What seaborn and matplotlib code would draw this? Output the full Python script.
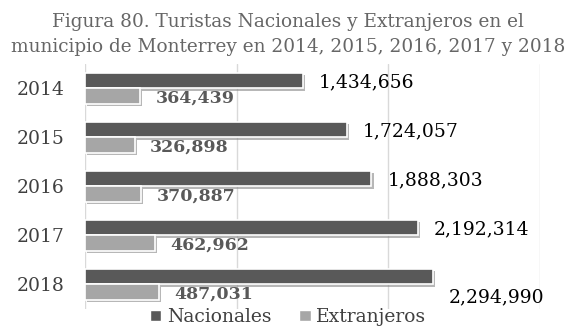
import pandas as pd
import numpy as np
import matplotlib.pyplot as plt
import matplotlib.patheffects as pe
import seaborn as sns

# Data
years = ['2014', '2015', '2016', '2017', '2018']
nacionales = [1434656, 1724057, 1888303, 2192314, 2294990]
extranjeros = [364439, 326898, 370887, 462962, 487031]
series_names = ['Nacionales', 'Extranjeros']
title = ('Figura 80. Turistas Nacionales y Extranjeros en el\n'
         'municipio de Monterrey en 2014, 2015, 2016, 2017 y 2018')

df = pd.DataFrame({
    'year': years * 2,
    'value': nacionales + extranjeros,
    'serie': [series_names[0]] * len(years) + [series_names[1]] * len(years),
})

sns.set_style('white')
plt.rcParams['font.family'] = ['DejaVu Serif']

fig = plt.figure(figsize=(5.76, 3.29), dpi=100)
ax = fig.add_axes([0.1476, 0.0608, 0.79, 0.7447])

palette = {'Nacionales': '#595959', 'Extranjeros': '#a6a6a6'}
sns.barplot(data=df, y='year', x='value', hue='serie', order=years,
            hue_order=series_names, palette=palette, orient='h',
            width=0.64, edgecolor='white', linewidth=1.2, saturation=1,
            ax=ax, legend=False)

shadow = [pe.SimplePatchShadow(offset=(1.5, -1.5), shadow_rgbFace='#888888', alpha=0.6),
          pe.Normal()]
for p in ax.patches:
    p.set_path_effects(shadow)

# value labels
nac_bars = ax.containers[0]
ext_bars = ax.containers[1]
for i, (bar, v) in enumerate(zip(nac_bars, nacionales)):
    dy = -2 if i < len(years) - 1 else -21
    ax.annotate(f'{v:,}', (bar.get_width(), bar.get_y() + bar.get_height() / 2),
                xytext=(16, dy), textcoords='offset pixels', va='center', ha='left',
                fontsize=13.5, color='black')
for bar, v in zip(ext_bars, extranjeros):
    ax.annotate(f'{v:,}', (bar.get_width(), bar.get_y() + bar.get_height() / 2),
                xytext=(15, -2), textcoords='offset pixels', va='center', ha='left',
                fontsize=12.5, color='#595959', fontweight='bold')

ax.set_xlim(0, 3000000)
ax.set_xticks([0, 1000000, 2000000, 3000000])
ax.set_xticklabels([])
ax.tick_params(axis='x', length=0)
ax.tick_params(axis='y', length=0, labelsize=13.5, labelcolor='#404040', pad=15)
ax.xaxis.grid(True, color='#d9d9d9', linewidth=1)
ax.set_axisbelow(True)
for s in ax.spines.values():
    s.set_visible(False)
ax.set_xlabel('')
ax.set_ylabel('')

fig.text(0.5, 0.96, title, ha='center', va='top', fontsize=13.3,
         color='#666666', linespacing=1.5)

handles = [plt.Rectangle((0, 0), 1, 1, facecolor=palette[n], edgecolor='white') for n in series_names]
fig.legend(handles, series_names, loc='center', bbox_to_anchor=(0.5, 0.036),
           ncol=2, frameon=False, fontsize=13.5, handlelength=0.6, handleheight=0.6,
           handletextpad=0.3, columnspacing=1.5, labelcolor='#404040',
           borderpad=0)

fig.savefig('out.png', dpi=100)
